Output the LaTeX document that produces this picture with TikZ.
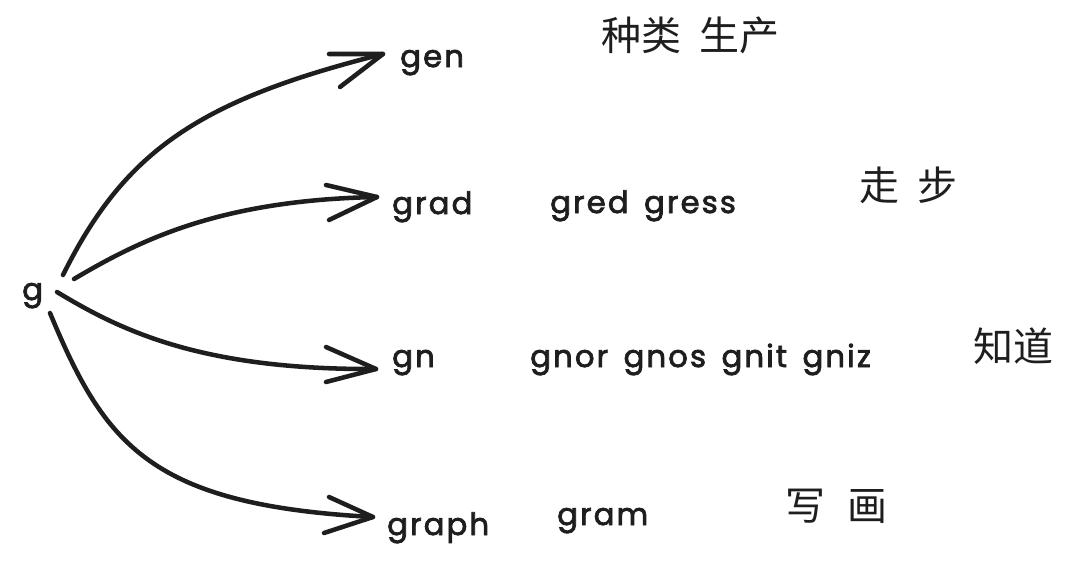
\documentclass[tikz,border=0pt]{standalone}
\usepackage{fontspec}
\setmainfont{Poppins}
\newfontfamily\hand{Poppins}[FakeBold=2.5, LetterSpace=7, WordSpace=1.5]
\newfontfamily\cjk{Noto Sans CJK SC}
\definecolor{ink}{HTML}{1E1E1E}
\tikzset{
  stroke/.style={draw=ink, line width=3.4pt, line cap=round, line join=round},
  lat/.style={text=ink, font=\hand\fontsize{23}{26}\selectfont, inner sep=0pt, anchor=base west},
  han/.style={text=ink, font=\cjk\fontsize{30}{34}\selectfont, inner sep=0pt, anchor=north west},
}
\begin{document}
\begin{tikzpicture}[x=0.75pt,y=-0.75pt]
\useasboundingbox (0,0) rectangle (1074,568);
% root
\node[lat] (g) at (22,300) {g};
% first-level nodes
\node[lat] (gen) at (400,67) {gen};
\node[lat] (grad) at (392,214) {grad};
\node[lat] (gn) at (392,367) {gn};
\node[lat] (graph) at (387,535) {graph};
% extra words
\node[lat] (gred) at (550,213) {gred gress};
\node[lat] (gnor) at (530,367) {gnor gnos gnit gniz};
\node[lat] (gram) at (557,525) {gram};
% chinese
\node[han] (zh1) at (601,17) {种类\hspace{0.45em}生产};
\node[han] (zh2) at (859,167) {走\hspace{0.45em}步};
\node[han] (zh3) at (973,327) {知道};
\node[han] (zh4) at (785,489) {写\hspace{0.55em}画};
% connector end points
\coordinate (s1) at (63,275);
\coordinate (t1) at (383,54);
\coordinate (s2) at (74,279);
\coordinate (t2) at (377,197);
\coordinate (s3) at (57,292);
\coordinate (t3) at (376,369);
\coordinate (s4) at (50,313);
\coordinate (t4) at (373,517);
% connectors
\draw[stroke] (s1) .. controls (125,150) and (200,100) .. (t1);
\draw[stroke] (329,54) -- (t1) -- (340,87);
\draw[stroke] (s2) .. controls (140,240) and (220,200) .. (t2);
\draw[stroke] (326,185) -- (t2) -- (329,220);
\draw[stroke] (s3) .. controls (120,330) and (200,370) .. (t3);
\draw[stroke] (326,347) -- (t3) -- (326,382);
\draw[stroke] (s4) .. controls (105,445) and (150,505) .. (t4);
\draw[stroke] (329,497) -- (t4) -- (324,533);
\end{tikzpicture}
\end{document}
